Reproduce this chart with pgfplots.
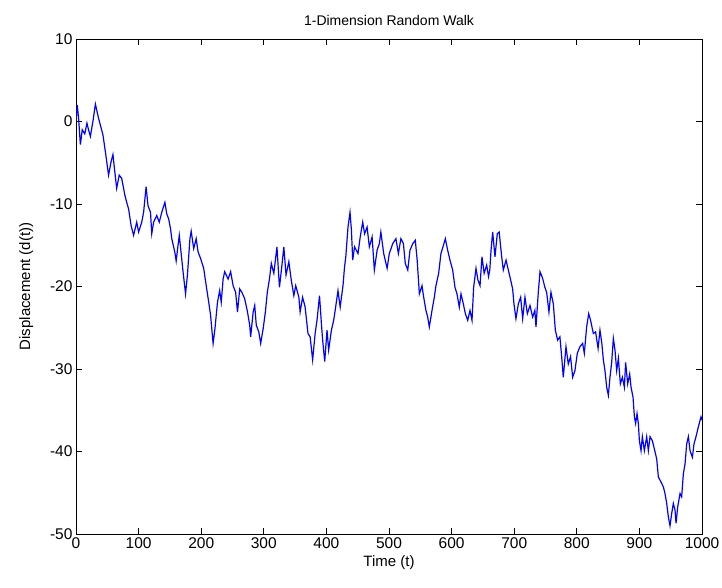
\documentclass[border=0pt]{standalone}
\usepackage{fontspec}
\setmainfont{Liberation Sans}
\usepackage{pgfplots}
\pgfplotsset{compat=1.18}
\begin{document}
\begin{tikzpicture}
\begin{axis}[
  at={(0,0)}, anchor=south west,
  scale only axis, width=626pt, height=495pt,
  xmin=0, xmax=1000, ymin=-50, ymax=10,
  xtick={0,100,...,1000}, ytick={-50,-40,...,10},
  tick pos=both, ticklabel pos=left,
  tick align=inside, major tick length=6pt,
  axis line style={line width=0.9pt, black},
  every tick/.style={black, line width=0.9pt},
  /pgf/number format/assume math mode=true,
  /pgf/number format/1000 sep={},
  scaled ticks=false,
  tick label style={font=\fontsize{15.5}{17}\selectfont},
  label style={font=\fontsize{15}{17}\selectfont},
  title style={font=\fontsize{14}{16}\selectfont, yshift=4pt},
  title={1-Dimension Random Walk},
  xlabel={Time (t)}, ylabel={Displacement (d(t))},
  ylabel shift=10pt, xlabel shift=0pt,
]
\addplot[color={rgb,255:red,0;green,0;blue,255}, line width=1.2pt, line join=miter] coordinates {
(0,0) (2,2) (4,0.5) (7,-2.8) (10,-1) (14,-1.5) (17.5,-0.2) (20,-1) (23,-1.8) (27,0)
(31,2.1) (36,0.4) (43,-1.6) (47,-3.7) (52,-6.5) (56,-4.9) (59,-4) (62,-6.1) (65,-8.1) (69,-6.5)
(73,-6.9) (78,-8.9) (81,-9.8) (84,-10.6) (88,-12.6) (92,-13.8) (97,-12.2) (100,-13.4) (105,-12.2) (108,-11)
(112,-7.9) (115,-10.2) (119,-11) (121,-13.6) (124,-12.2) (129,-11.4) (133,-12.2) (137,-11) (142,-9.8) (145,-11.2)
(148,-11.8) (151,-13) (153,-14.2) (158,-15.9) (160,-16.9) (163,-15) (165,-13.8) (168,-16) (171,-18.2) (175,-20.9)
(178,-18.6) (182,-14.2) (184,-13.3) (188,-15.4) (192,-14.2) (195,-15.8) (199,-16.6) (204,-17.8) (208,-19.9) (212,-21.9)
(215,-23.5) (219,-26.9) (222,-25.1) (226,-21.9) (229.5,-20.5) (232,-21.9) (235,-19.1) (237.5,-18.2) (243,-19.1) (247,-18.2)
(251,-19.9) (255,-20.7) (258,-23.1) (261.5,-20.3) (265,-20.7) (269.5,-21.5) (274,-23.1) (277.5,-24.7) (279,-26.1) (283,-23.1)
(285.5,-22.3) (288,-24.7) (292,-25.5) (295,-26.9) (299,-25.1) (302.5,-23.1) (305.6,-20.7) (309,-19.1) (312,-17.2) (316,-18.4)
(321,-15.2) (325,-20.1) (329,-17.4) (332,-15.2) (335.5,-18.6) (340,-17.0) (344,-19.3) (348,-21.1) (351,-19.9) (356,-21.3)
(358,-23.1) (362,-21.3) (366,-22.5) (370.6,-25.7) (374,-26.1) (378,-28.9) (382,-25.7) (385,-24.1) (389,-21.1) (392,-24.5)
(394,-26.5) (397.3,-29.1) (401,-25.3) (403.6,-27.7) (408,-25.3) (411.6,-24.1) (414,-22.9) (418.5,-20.5) (422,-22.5) (426.5,-19.9)
(429,-17.6) (431,-16.4) (434.5,-12.8) (437.7,-11.0) (440,-13.2) (442,-16.8) (445,-15.2) (450.5,-16.0) (454,-14.0) (458,-12.2)
(461,-13.6) (465,-12.8) (468.6,-15.2) (473,-14.0) (476.6,-18.0) (481,-15.6) (484.6,-14.8) (487,-13.4) (491.5,-16.0) (497,-17.8)
(500.5,-16.0) (506,-14.8) (511,-14.2) (515,-16.0) (519,-14.2) (523,-14.8) (526,-17.2) (530,-18.0) (533.5,-15.6) (538,-14.8)
(542,-14.4) (545,-16.8) (548.5,-20.9) (552.7,-19.9) (555.4,-21.3) (559,-22.9) (561.8,-23.7) (564.4,-24.9) (568.7,-22.9) (572.4,-21.3)
(575,-19.9) (579.3,-18.4) (583,-16.0) (587,-15.0) (590,-14.2) (593.7,-15.6) (597.4,-16.8) (601.7,-18.0) (605.4,-20.1) (608.6,-20.9)
(612.3,-22.5) (615,-20.9) (618.7,-22.1) (622,-23.3) (625.7,-24.1) (629.4,-22.9) (632.6,-24.1) (635.2,-20.1) (639,-17.8) (642,-19.2)
(645.4,-19.9) (648.5,-16.4) (652,-18.4) (656,-17.4) (659,-18.8) (661,-18.0) (663,-15.6) (665.6,-13.4) (669.3,-16.4) (673,-13.6)
(676,-13.4) (680,-16.4) (682.6,-18.0) (687,-16.8) (690.6,-18.0) (694.3,-19.2) (697.5,-20.3) (699.6,-22.1) (702.8,-23.9) (706.6,-22.1)
(710.3,-21.3) (713.5,-23.9) (717.2,-21.3) (721,-23.3) (725.2,-22.3) (729.5,-23.7) (733,-22.9) (734.8,-24.9) (738.5,-20.7) (741.2,-18.2)
(745.4,-19.0) (749,-20.1) (751.8,-20.7) (755.5,-23.1) (758.7,-20.7) (762.5,-22.1) (765.7,-25.3) (769.4,-26.5) (773,-26.1) (775.8,-28.5)
(778.4,-31.0) (782.7,-27.3) (786.4,-29.4) (790,-28.5) (793.4,-31.0) (797,-30.2) (800.8,-28.1) (805,-27.3) (809.3,-26.9) (812,-28.1)
(815.7,-24.9) (819,-23.3) (822,-24.1) (826.4,-25.7) (830,-25.5) (834,-27.5) (837,-25.3) (840,-26.9) (842.4,-28.9) (845,-30.2)
(847.7,-32.2) (850.4,-33.2) (853,-31.0) (855.7,-29.2) (858.4,-26.3) (861,-27.7) (863.7,-30.2) (866.4,-28.7) (869.6,-31.8) (872.8,-31.0)
(876,-32.2) (878,-29.2) (881.3,-31.8) (884.5,-30.6) (886.6,-32.2) (889.8,-33.4) (892,-35.8) (894,-36.6) (896.2,-35.4) (898.3,-36.6)
(900,-38.7) (902.6,-39.9) (904.7,-38.2) (907.9,-39.9) (911.6,-38.2) (914.3,-39.9) (917,-38.2) (920.7,-38.7) (923.9,-39.7) (927.6,-40.9)
(930.3,-43.1) (934.5,-43.7) (938.3,-44.3) (940.9,-45.1) (943.6,-46.3) (946.2,-47.9) (948.9,-49.0) (951.6,-47.5) (954.2,-46.3) (956.9,-47.1)
(958.5,-48.7) (961.2,-46.7) (964.9,-45.1) (967.5,-45.5) (970.2,-42.7) (972.9,-41.5) (975.5,-39.1) (978.2,-38.2) (980.9,-39.9) (984.6,-40.7)
(987.2,-39.1) (990.4,-38.2) (994.2,-37.0) (998.4,-35.8) (1000,-36.2)
};
\end{axis}
\pgfresetboundingbox
\path[use as bounding box] (-76pt,-54pt) rectangle (646pt,534pt);
\end{tikzpicture}
\end{document}
